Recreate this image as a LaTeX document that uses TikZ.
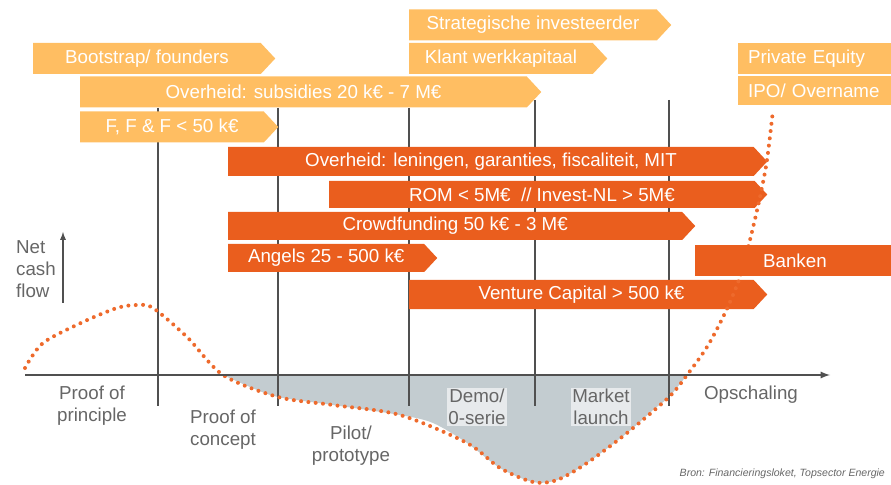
\documentclass[tikz,border=0pt]{standalone}
\usepackage{fontspec}
\setmainfont{Liberation Sans}
\usetikzlibrary{shapes.symbols,arrows}
\definecolor{lightorange}{HTML}{FFBE62}
\definecolor{darkorange}{HTML}{EA5E1E}
\definecolor{dotorange}{HTML}{EE6A2C}
\definecolor{textgray}{HTML}{666666}
\definecolor{linegray}{HTML}{505050}
\definecolor{valley}{HTML}{C3CCD0}
\begin{document}
\begin{tikzpicture}[x=0.03cm, y=-0.03cm]
    % Define Styles
        \tikzstyle{bar} = [signal, signal to=east, signal pointer angle=94, inner sep=0, anchor=west, text=white, font=\fontsize{16}{19}\selectfont]
        \tikzstyle{light} = [bar, fill=lightorange, minimum height=0.93cm]
        \tikzstyle{dark} = [bar, fill=darkorange, minimum height=0.87cm]
        \tikzstyle{box} = [rectangle, inner sep=0, anchor=west, text=white, font=\fontsize{16}{19}\selectfont]
        \tikzstyle{phase} = [text=textgray, align=center, font=\fontsize{16}{18.7}\selectfont]
        \tikzstyle{divider} = [draw=linegray, line width=0.045cm]
        \tikzstyle{line} = [draw=linegray, -latex, line width=0.06cm]
        \tikzstyle{dots} = [draw=dotorange, line width=0.12cm, line cap=round, dash pattern=on 0pt off 0.22cm]
        \useasboundingbox (0,0) rectangle (891,485);
    % Valley below the axis
        \fill[valley] plot[smooth] coordinates {(223,375) (250,387) (278,397) (333,405) (400,415) (433,423) (467,443) (500,468) (533,482) (557,480) (587,463) (627,433) (653,410) (669,397) (687,375)} -- cycle;
    % Phase dividers
        \foreach \x/\t in {158/108, 278/108, 409/108, 535/100, 669/100}
            \draw[divider] (\x,\t) -- (\x,406);
    % Place nodes
        \node [light, minimum width=242*0.03cm] (boot) at (33,58.5) {Bootstrap/ founders};
        \node [light, minimum width=461*0.03cm] (subsidies) at (80,92) {Overheid: subsidies 20 k€ - 7 M€};
        \node [light, minimum width=198*0.03cm] (fff) at (80,127) {F, F \& F < 50 k€};
        \node [light, minimum width=262*0.03cm] (strategic) at (409,25) {Strategische investeerder};
        \node [light, minimum width=198*0.03cm] (klant) at (409,58.5) {Klant werkkapitaal};
        \node [box, fill=lightorange, minimum width=153*0.03cm, minimum height=0.93cm, text width=4.29cm, inner xsep=0.3cm, align=left] (equity) at (738,58.5) {Private Equity};
        \node [box, fill=lightorange, minimum width=153*0.03cm, minimum height=0.87cm, text width=4.29cm, inner xsep=0.3cm, align=left] (ipo) at (738,90.5) {IPO/ Overname};
        \node [dark, minimum width=539*0.03cm] (leningen) at (228,161.5) {Overheid: leningen, garanties, fiscaliteit, MIT};
        \node [dark, minimum width=438*0.03cm, minimum height=0.81cm] (rom) at (329,194.5) {ROM < 5M€ \ // Invest-NL > 5M€};
        \node [dark, minimum width=467*0.03cm, minimum height=0.84cm] (crowd) at (228,226) {Crowdfunding 50 k€ - 3 M€};
        \node [dark, minimum width=209*0.03cm, minimum height=0.84cm] (angels) at (228,258) {Angels 25 - 500 k€};
        \node [dark, minimum width=358*0.03cm] (venture) at (409,294.5) {Venture Capital > 500 k€};
    % Cash flow curve
        \draw[dots] plot[smooth] coordinates {(25,368) (43,343) (83,322) (117,308) (137,305) (153,308) (187,337) (223,375) (278,397) (333,405) (400,415) (467,443) (500,468) (533,482) (557,480) (587,463) (627,433) (669,397) (687,375) (707,347) (725,313) (740,277) (750,240) (760,197) (767,160) (773,110)};
        \node [box, fill=darkorange, minimum width=196*0.03cm, minimum height=0.93cm] (banken) at (695,260.5) {\hspace*{0.1cm}Banken};
    % Axes
        \coordinate (origin) at (25,375);
        \coordinate (xend) at (830,375);
        \coordinate (yfoot) at (63,303);
        \coordinate (ytop) at (63,232);
        \draw[line] (origin) -- (xend);
        \draw[line, line width=0.045cm] (yfoot) -- (ytop);
        \node [phase, align=left, anchor=west] (netcf) at (12,269) {Net\\cash\\flow};
    % Phase labels
        \node [phase] (principle) at (92,406) {Proof of\\principle};
        \node [phase] (concept) at (223,429.5) {Proof of\\concept};
        \node [phase] (pilot) at (351,445.5) {Pilot/\\prototype};
        \node [phase, fill=white, fill opacity=0.6, text opacity=1, inner sep=1pt] (demo) at (477,407) {Demo/\\0-serie};
        \node [phase, fill=white, fill opacity=0.6, text opacity=1, inner sep=1pt] (market) at (601,407) {Market\\launch};
        \node [phase] (scaleup) at (751,395) {Opschaling};
        \node [text=textgray, anchor=east, font=\fontsize{9}{11}\selectfont\itshape] (source) at (889,474) {Bron: Financieringsloket, Topsector Energie};
\end{tikzpicture}
\end{document}
